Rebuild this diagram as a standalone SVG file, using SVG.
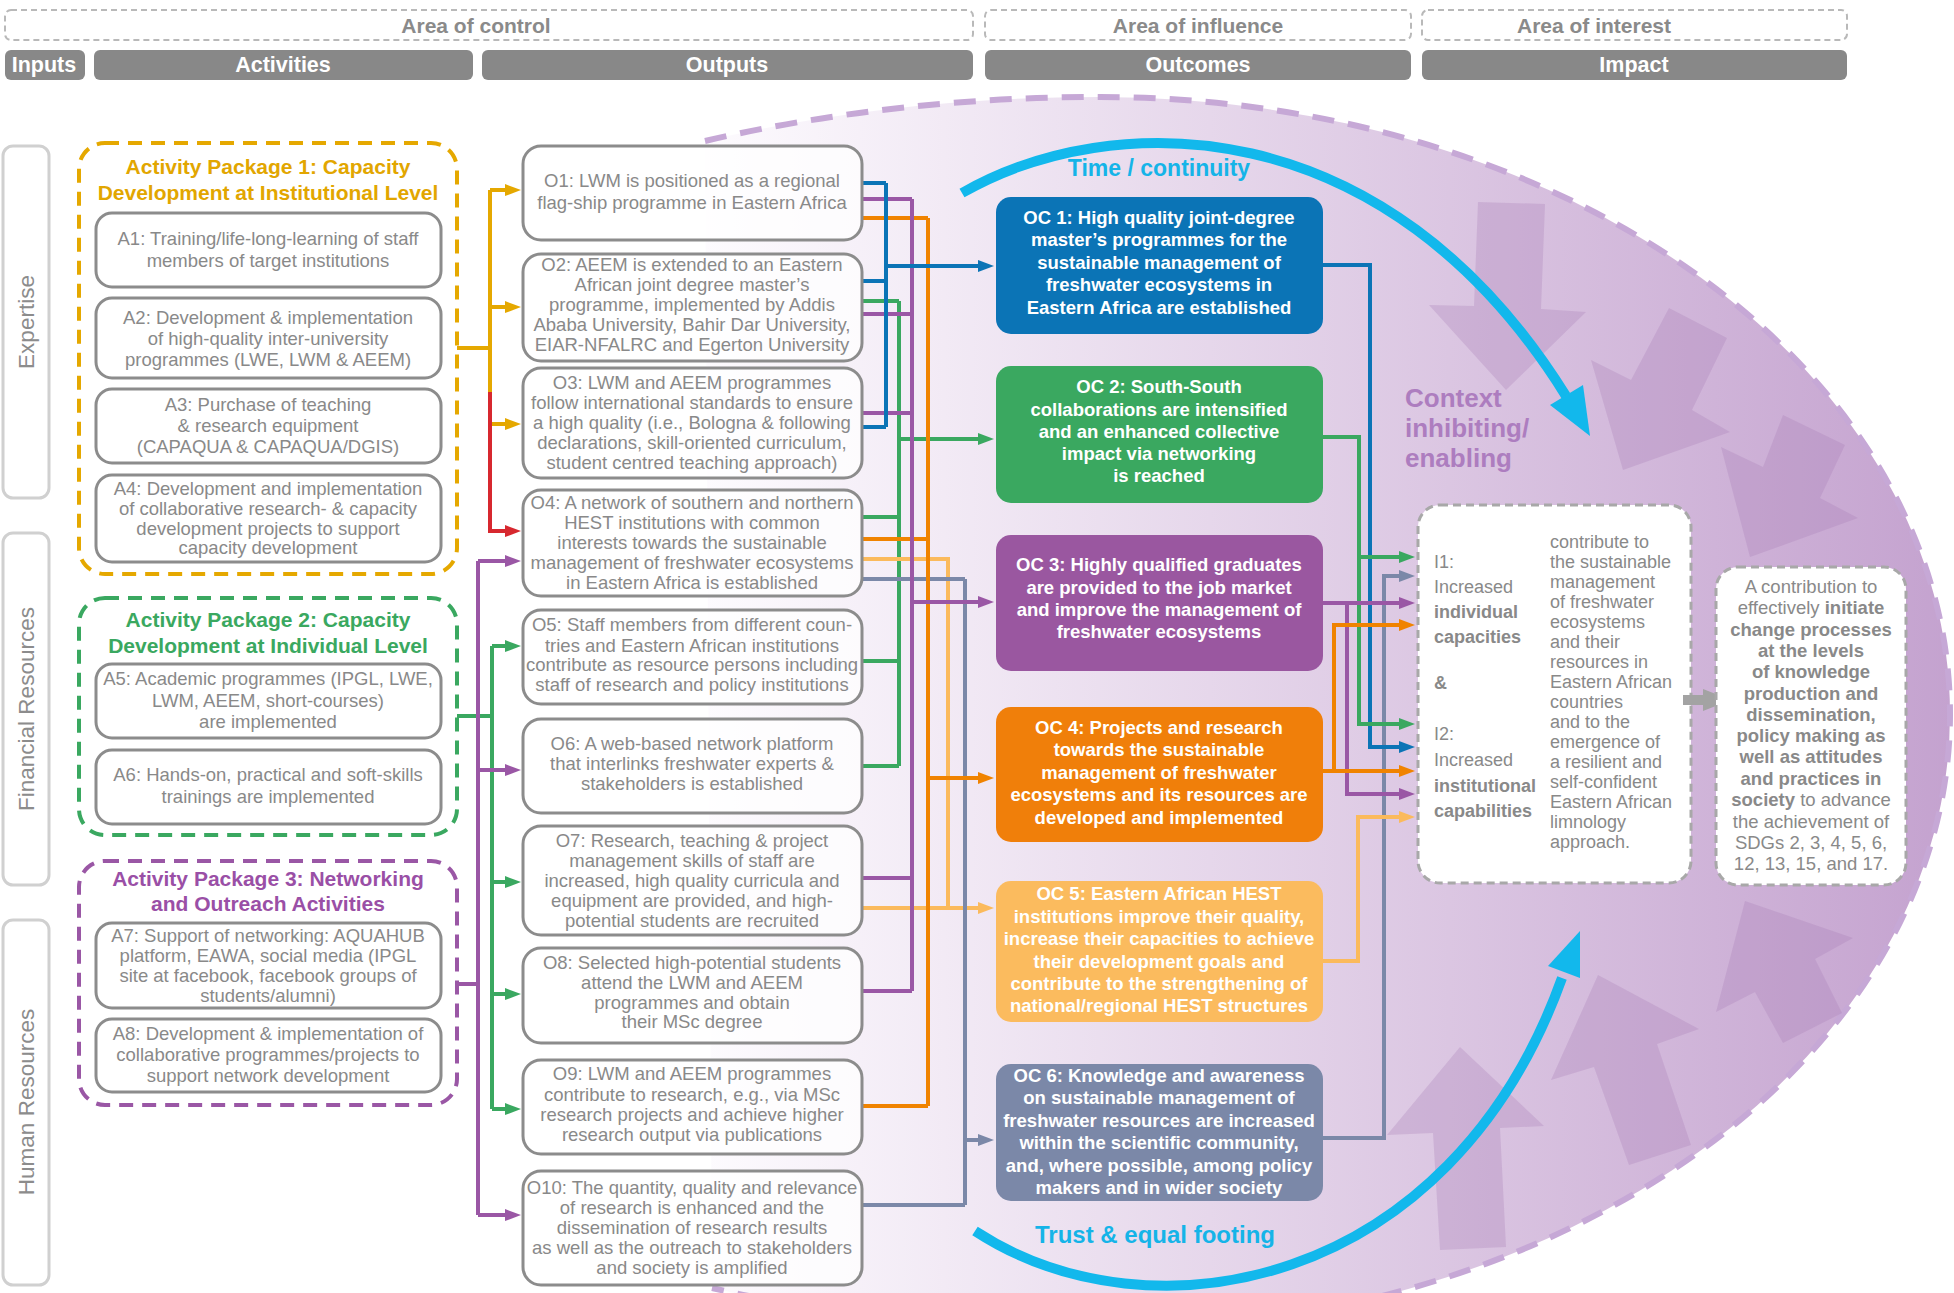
<svg xmlns="http://www.w3.org/2000/svg" width="1954" height="1293" viewBox="0 0 1954 1293">
<defs>
<linearGradient id="eg" gradientUnits="userSpaceOnUse" x1="705" y1="0" x2="1954" y2="0">
<stop offset="0" stop-color="#fdfbfe"/>
<stop offset="1" stop-color="#c4a2cf"/>
</linearGradient>
<marker id="mY" viewBox="0 0 16 12" refX="4" refY="6" markerWidth="16" markerHeight="12" markerUnits="userSpaceOnUse" orient="auto"><path d="M0,0L16,6L0,12z" fill="#e5a800"/></marker>
<marker id="mR" viewBox="0 0 16 12" refX="4" refY="6" markerWidth="16" markerHeight="12" markerUnits="userSpaceOnUse" orient="auto"><path d="M0,0L16,6L0,12z" fill="#d7282f"/></marker>
<marker id="mG" viewBox="0 0 16 12" refX="4" refY="6" markerWidth="16" markerHeight="12" markerUnits="userSpaceOnUse" orient="auto"><path d="M0,0L16,6L0,12z" fill="#3aa860"/></marker>
<marker id="mP" viewBox="0 0 16 12" refX="4" refY="6" markerWidth="16" markerHeight="12" markerUnits="userSpaceOnUse" orient="auto"><path d="M0,0L16,6L0,12z" fill="#9a57a5"/></marker>
<marker id="mB" viewBox="0 0 16 12" refX="4" refY="6" markerWidth="16" markerHeight="12" markerUnits="userSpaceOnUse" orient="auto"><path d="M0,0L16,6L0,12z" fill="#0b74b6"/></marker>
<marker id="mO" viewBox="0 0 16 12" refX="4" refY="6" markerWidth="16" markerHeight="12" markerUnits="userSpaceOnUse" orient="auto"><path d="M0,0L16,6L0,12z" fill="#f08300"/></marker>
<marker id="mL" viewBox="0 0 16 12" refX="4" refY="6" markerWidth="16" markerHeight="12" markerUnits="userSpaceOnUse" orient="auto"><path d="M0,0L16,6L0,12z" fill="#fbba5c"/></marker>
<marker id="mS" viewBox="0 0 16 12" refX="4" refY="6" markerWidth="16" markerHeight="12" markerUnits="userSpaceOnUse" orient="auto"><path d="M0,0L16,6L0,12z" fill="#7b88a8"/></marker>
</defs>
<style>
text{font-family:"Liberation Sans",Arial,sans-serif}
.h1{font-size:21px;font-weight:bold;fill:#8a8a8a;text-anchor:middle}
.h2{font-size:21.5px;font-weight:bold;fill:#ffffff;text-anchor:middle}
.hb1{fill:none;stroke:#b9b9b9;stroke-width:2;stroke-dasharray:6 4}
.hb2{fill:#888888}
.side{fill:#ffffff;stroke:#d0d0d0;stroke-width:3}
.sidet{font-size:22.5px;fill:#8c8c8c;text-anchor:middle}
.ap{fill:none;stroke-width:4;stroke-dasharray:14 9}
.apt{font-size:21px;font-weight:bold;text-anchor:middle}
.box{fill:#ffffff;stroke:#8c8c8c;stroke-width:3}
.obox{fill:#ffffff;fill-opacity:0.75;stroke:#8c8c8c;stroke-width:3}
.bt{font-size:18.5px;fill:#898989;text-anchor:middle}
.oc{font-size:18.5px;font-weight:bold;fill:#ffffff;text-anchor:middle}
.c{fill:none;stroke-width:4}
.ctx{fill:#a57ab5;fill-opacity:0.28}
.cy{fill:none;stroke:#12b8ec;stroke-width:10}
.dbox{fill:#ffffff;stroke:#a8a8a8;stroke-width:3;stroke-dasharray:8 5}
.it{font-size:18px;fill:#898989}
.ft{font-size:18.5px;fill:#898989;text-anchor:middle}
</style>

<g id="context-ellipse">
<path d="M705,141 A1061,617 0 0 1 1100,97 A850,617 0 0 1 1100,1331 A1061,617 0 0 1 712,1288 Z" fill="url(#eg)"/>
<path d="M705,141 A1061,617 0 0 1 1100,97 A850,617 0 0 1 1100,1331 A1061,617 0 0 1 712,1288" fill="none" stroke="#c6a8d6" stroke-width="6" stroke-dasharray="22 14"/>
<polygon class="ctx" points="1478,202 1545,204 1541,309 1586,312 1506,390 1429,305 1474,306"/>
<polygon class="ctx" points="1669,308 1727,338 1692,410 1730,432 1623,470 1591,360 1631,380"/>
<polygon class="ctx" points="1783,415 1845,445 1820,498 1858,518 1750,557 1721,447 1763,467"/>
<polygon class="ctx" points="1440,1250 1506,1247 1500,1128 1544,1126 1460,1047 1387,1135 1433,1133"/>
<polygon class="ctx" points="1629,1165 1691,1145 1657,1044 1699,1029 1598,975 1551,1080 1594,1067"/>
<polygon class="ctx" points="1783,1043 1842,1013 1815,959 1853,938 1745,901 1716,1012 1755,992"/>
<text x="1405" y="407" font-size="26" font-weight="bold" fill="#ad7dbf">Context</text>
<text x="1405" y="437" font-size="26" font-weight="bold" fill="#ad7dbf">inhibiting/</text>
<text x="1405" y="467" font-size="26" font-weight="bold" fill="#ad7dbf">enabling</text>
</g>

<g id="cyan-arcs">
<path class="cy" d="M962,193 C1110,108 1385,105 1566,396"/>
<polygon points="1590,436 1550,405 1583,385" fill="#12b8ec"/>
<text x="1159" y="176" font-size="23" font-weight="bold" fill="#15b4e8" text-anchor="middle">Time / continuity</text>
<path class="cy" d="M975,1231 C1150,1345 1450,1290 1562,978" stroke-width="9"/>
<polygon points="1580,931 1548,966 1580,978" fill="#12b8ec"/>
<text x="1155" y="1243" font-size="24" font-weight="bold" fill="#15b4e8" text-anchor="middle">Trust &amp; equal footing</text>
</g>

<g id="header">
<rect class="hb1" x="5" y="10" width="968" height="30" rx="6"/>
<rect class="hb1" x="985" y="10" width="426" height="30" rx="6"/>
<rect class="hb1" x="1422" y="10" width="425" height="30" rx="6"/>
<text class="h1" x="476" y="33">Area of control</text>
<text class="h1" x="1198" y="33">Area of influence</text>
<text class="h1" x="1594" y="33">Area of interest</text>
<rect class="hb2" x="5" y="50" width="80" height="30" rx="6"/>
<rect class="hb2" x="94" y="50" width="379" height="30" rx="6"/>
<rect class="hb2" x="482" y="50" width="491" height="30" rx="6"/>
<rect class="hb2" x="985" y="50" width="426" height="30" rx="6"/>
<rect class="hb2" x="1422" y="50" width="425" height="30" rx="6"/>
<text class="h2" x="44" y="72">Inputs</text>
<text class="h2" x="283" y="72">Activities</text>
<text class="h2" x="727" y="72">Outputs</text>
<text class="h2" x="1198" y="72">Outcomes</text>
<text class="h2" x="1634" y="72">Impact</text>
</g>

<g id="inputs">
<rect class="side" x="3" y="146" width="46" height="352" rx="10"/>
<rect class="side" x="3" y="533" width="46" height="352" rx="10"/>
<rect class="side" x="3" y="920" width="46" height="365" rx="10"/>
<text class="sidet" transform="translate(26,322) rotate(-90)" y="8">Expertise</text>
<text class="sidet" transform="translate(26,709) rotate(-90)" y="8">Financial Resources</text>
<text class="sidet" transform="translate(26,1102) rotate(-90)" y="8">Human Resources</text>
</g>

<g id="ap1">
<rect class="ap" x="79" y="143" width="378" height="431" rx="26" stroke="#e5a800"/>
<text class="apt" x="268" y="174" fill="#e2a600">Activity Package 1: Capacity</text>
<text class="apt" x="268" y="200" fill="#e2a600">Development at Institutional Level</text>
</g>
<g id="a1"><rect class="box" x="96" y="213" width="345" height="74" rx="16"/>
<text class="bt" x="268" y="245">A1: Training/life-long-learning of staff</text>
<text class="bt" x="268" y="267">members of target institutions</text></g>
<g id="a2"><rect class="box" x="96" y="298" width="345" height="80" rx="16"/>
<text class="bt" x="268" y="324">A2: Development &amp; implementation</text>
<text class="bt" x="268" y="345">of high-quality inter-university</text>
<text class="bt" x="268" y="366">programmes (LWE, LWM &amp; AEEM)</text></g>
<g id="a3"><rect class="box" x="96" y="389" width="345" height="74" rx="16"/>
<text class="bt" x="268" y="411">A3: Purchase of teaching</text>
<text class="bt" x="268" y="432">&amp; research equipment</text>
<text class="bt" x="268" y="453">(CAPAQUA &amp; CAPAQUA/DGIS)</text></g>
<g id="a4"><rect class="box" x="96" y="475" width="345" height="87" rx="16"/>
<text class="bt" x="268" y="495">A4: Development and implementation</text>
<text class="bt" x="268" y="515">of collaborative research- &amp; capacity</text>
<text class="bt" x="268" y="535">development projects to support</text>
<text class="bt" x="268" y="554">capacity development</text></g>

<g id="ap2">
<rect class="ap" x="79" y="598" width="378" height="237" rx="26" stroke="#3aa860"/>
<text class="apt" x="268" y="627" fill="#3aa860">Activity Package 2: Capacity</text>
<text class="apt" x="268" y="653" fill="#3aa860">Development at Individual Level</text>
</g>
<g id="a5"><rect class="box" x="96" y="664" width="345" height="74" rx="16"/>
<text class="bt" x="268" y="685">A5: Academic programmes (IPGL, LWE,</text>
<text class="bt" x="268" y="707">LWM, AEEM, short-courses)</text>
<text class="bt" x="268" y="728">are implemented</text></g>
<g id="a6"><rect class="box" x="96" y="750" width="345" height="74" rx="16"/>
<text class="bt" x="268" y="781">A6: Hands-on, practical and soft-skills</text>
<text class="bt" x="268" y="803">trainings are implemented</text></g>

<g id="ap3">
<rect class="ap" x="79" y="861" width="378" height="244" rx="26" stroke="#9a57a5"/>
<text class="apt" x="268" y="886" fill="#9a4fa6">Activity Package 3: Networking</text>
<text class="apt" x="268" y="911" fill="#9a4fa6">and Outreach Activities</text>
</g>
<g id="a7"><rect class="box" x="96" y="923" width="345" height="85" rx="16"/>
<text class="bt" x="268" y="942">A7: Support of networking: AQUAHUB</text>
<text class="bt" x="268" y="962">platform, EAWA, social media (IPGL</text>
<text class="bt" x="268" y="982">site at facebook, facebook groups of</text>
<text class="bt" x="268" y="1002">students/alumni)</text></g>
<g id="a8"><rect class="box" x="96" y="1019" width="345" height="73" rx="16"/>
<text class="bt" x="268" y="1040">A8: Development &amp; implementation of</text>
<text class="bt" x="268" y="1061">collaborative programmes/projects to</text>
<text class="bt" x="268" y="1082">support network development</text></g>

<g id="connectors">
<path class="c" stroke="#e5a800" d="M457,348H490M490,190V424"/>
<path class="c" stroke="#e5a800" d="M490,190H509" marker-end="url(#mY)"/>
<path class="c" stroke="#e5a800" d="M490,307H509" marker-end="url(#mY)"/>
<path class="c" stroke="#e5a800" d="M490,424H509" marker-end="url(#mY)"/>
<path class="c" stroke="#d7282f" d="M490,392V531H509" marker-end="url(#mR)"/>
<path class="c" stroke="#3aa860" d="M457,716H492M492,646V1109"/>
<path class="c" stroke="#3aa860" d="M492,646H509" marker-end="url(#mG)"/>
<path class="c" stroke="#3aa860" d="M492,882H509" marker-end="url(#mG)"/>
<path class="c" stroke="#3aa860" d="M492,994H509" marker-end="url(#mG)"/>
<path class="c" stroke="#3aa860" d="M492,1109H509" marker-end="url(#mG)"/>
<path class="c" stroke="#9a57a5" d="M457,984H478M478,561V1215"/>
<path class="c" stroke="#9a57a5" d="M478,561H509" marker-end="url(#mP)"/>
<path class="c" stroke="#9a57a5" d="M478,770H509" marker-end="url(#mP)"/>
<path class="c" stroke="#9a57a5" d="M478,1215H509" marker-end="url(#mP)"/>

<path class="c" stroke="#3aa860" d="M862,301H899M862,517H899M862,661H899M862,766H899M899,301V766"/>
<path class="c" stroke="#3aa860" d="M899,439H982" marker-end="url(#mG)"/>
<path class="c" stroke="#fbba5c" d="M862,559H948V908"/>
<path class="c" stroke="#fbba5c" d="M862,908H982" marker-end="url(#mL)"/>
<path class="c" stroke="#7b88a8" d="M862,579H965M862,1205H965M965,579V1205"/>
<path class="c" stroke="#7b88a8" d="M965,1140H982" marker-end="url(#mS)"/>
<path class="c" stroke="#f08300" d="M862,218H928M862,539H928M862,1106H928M928,218V1106"/>
<path class="c" stroke="#f08300" d="M928,778H982" marker-end="url(#mO)"/>
<path class="c" stroke="#9a57a5" d="M862,199H912M862,314H912M862,413H912M862,878H912M862,991H912M912,199V991"/>
<path class="c" stroke="#9a57a5" d="M912,602H982" marker-end="url(#mP)"/>
<path class="c" stroke="#0b74b6" d="M862,183H886M862,281H886M862,427H886M886,183V427"/>
<path class="c" stroke="#0b74b6" d="M886,266H982" marker-end="url(#mB)"/>

<path class="c" stroke="#7b88a8" d="M1323,1138H1384V576H1403" marker-end="url(#mS)"/>
<path class="c" stroke="#0b74b6" d="M1323,265H1370V747H1403" marker-end="url(#mB)"/>
<path class="c" stroke="#3aa860" d="M1323,437H1359V724H1403" marker-end="url(#mG)"/>
<path class="c" stroke="#3aa860" d="M1359,557H1403" marker-end="url(#mG)"/>
<path class="c" stroke="#9a57a5" d="M1323,603H1403" marker-end="url(#mP)"/>
<path class="c" stroke="#9a57a5" d="M1347,603V794H1403" marker-end="url(#mP)"/>
<path class="c" stroke="#f08300" d="M1323,771H1403" marker-end="url(#mO)"/>
<path class="c" stroke="#f08300" d="M1334,771V625H1403" marker-end="url(#mO)"/>
<path class="c" stroke="#fbba5c" d="M1323,961H1358V817H1403" marker-end="url(#mL)"/>
</g>

<g id="o1"><rect class="obox" x="523" y="146" width="339" height="94" rx="18"/>
<text class="bt" x="692" y="187">O1: LWM is positioned as a regional</text>
<text class="bt" x="692" y="209">flag-ship programme in Eastern Africa</text></g>
<g id="o2"><rect class="obox" x="523" y="254" width="339" height="107" rx="18"/>
<text class="bt" x="692" y="271">O2: AEEM is extended to an Eastern</text>
<text class="bt" x="692" y="291">African joint degree master’s</text>
<text class="bt" x="692" y="311">programme, implemented by Addis</text>
<text class="bt" x="692" y="331">Ababa University, Bahir Dar University,</text>
<text class="bt" x="692" y="351">EIAR-NFALRC and Egerton University</text></g>
<g id="o3"><rect class="obox" x="523" y="368" width="339" height="110" rx="18"/>
<text class="bt" x="692" y="389">O3: LWM and AEEM programmes</text>
<text class="bt" x="692" y="409">follow international standards to ensure</text>
<text class="bt" x="692" y="429">a high quality (i.e., Bologna &amp; following</text>
<text class="bt" x="692" y="449">declarations, skill-oriented curriculum,</text>
<text class="bt" x="692" y="469">student centred teaching approach)</text></g>
<g id="o4"><rect class="obox" x="523" y="490" width="339" height="106" rx="18"/>
<text class="bt" x="692" y="509">O4: A network of southern and northern</text>
<text class="bt" x="692" y="529">HEST institutions with common</text>
<text class="bt" x="692" y="549">interests towards the sustainable</text>
<text class="bt" x="692" y="569">management of freshwater ecosystems</text>
<text class="bt" x="692" y="589">in Eastern Africa is established</text></g>
<g id="o5"><rect class="obox" x="523" y="610" width="339" height="94" rx="18"/>
<text class="bt" x="692" y="631">O5: Staff members from different coun-</text>
<text class="bt" x="692" y="652">tries and Eastern African institutions</text>
<text class="bt" x="692" y="671">contribute as resource persons including</text>
<text class="bt" x="692" y="691">staff of research and policy institutions</text></g>
<g id="o6"><rect class="obox" x="523" y="719" width="339" height="94" rx="18"/>
<text class="bt" x="692" y="750">O6: A web-based network platform</text>
<text class="bt" x="692" y="770">that interlinks freshwater experts &amp;</text>
<text class="bt" x="692" y="790">stakeholders is established</text></g>
<g id="o7"><rect class="obox" x="523" y="826" width="339" height="109" rx="18"/>
<text class="bt" x="692" y="847">O7: Research, teaching &amp; project</text>
<text class="bt" x="692" y="867">management skills of staff are</text>
<text class="bt" x="692" y="887">increased, high quality curricula and</text>
<text class="bt" x="692" y="907">equipment are provided, and high-</text>
<text class="bt" x="692" y="927">potential students are recruited</text></g>
<g id="o8"><rect class="obox" x="523" y="948" width="339" height="95" rx="18"/>
<text class="bt" x="692" y="969">O8: Selected high-potential students</text>
<text class="bt" x="692" y="989">attend the LWM and AEEM</text>
<text class="bt" x="692" y="1009">programmes and obtain</text>
<text class="bt" x="692" y="1028">their MSc degree</text></g>
<g id="o9"><rect class="obox" x="523" y="1060" width="339" height="94" rx="18"/>
<text class="bt" x="692" y="1080">O9: LWM and AEEM programmes</text>
<text class="bt" x="692" y="1101">contribute to research, e.g., via MSc</text>
<text class="bt" x="692" y="1121">research projects and achieve higher</text>
<text class="bt" x="692" y="1141">research output via publications</text></g>
<g id="o10"><rect class="obox" x="523" y="1171" width="339" height="114" rx="18"/>
<text class="bt" x="692" y="1194">O10: The quantity, quality and relevance</text>
<text class="bt" x="692" y="1214">of research is enhanced and the</text>
<text class="bt" x="692" y="1234">dissemination of research results</text>
<text class="bt" x="692" y="1254">as well as the outreach to stakeholders</text>
<text class="bt" x="692" y="1274">and society is amplified</text></g>

<g id="oc1"><rect x="996" y="197" width="327" height="137" rx="15" fill="#0b74b6"/>
<text class="oc" x="1159" y="224">OC 1: High quality joint-degree</text>
<text class="oc" x="1159" y="246">master’s programmes for the</text>
<text class="oc" x="1159" y="269">sustainable management of</text>
<text class="oc" x="1159" y="291">freshwater ecosystems in</text>
<text class="oc" x="1159" y="314">Eastern Africa are established</text></g>
<g id="oc2"><rect x="996" y="366" width="327" height="137" rx="15" fill="#3aa860"/>
<text class="oc" x="1159" y="393">OC 2: South-South</text>
<text class="oc" x="1159" y="416">collaborations are intensified</text>
<text class="oc" x="1159" y="438">and an enhanced collective</text>
<text class="oc" x="1159" y="460">impact via networking</text>
<text class="oc" x="1159" y="482">is reached</text></g>
<g id="oc3"><rect x="996" y="535" width="327" height="136" rx="15" fill="#9a57a0"/>
<text class="oc" x="1159" y="571">OC 3: Highly qualified graduates</text>
<text class="oc" x="1159" y="594">are provided to the job market</text>
<text class="oc" x="1159" y="616">and improve the management of</text>
<text class="oc" x="1159" y="638">freshwater ecosystems</text></g>
<g id="oc4"><rect x="996" y="707" width="327" height="135" rx="15" fill="#f07f0a"/>
<text class="oc" x="1159" y="734">OC 4: Projects and research</text>
<text class="oc" x="1159" y="756">towards the sustainable</text>
<text class="oc" x="1159" y="779">management of freshwater</text>
<text class="oc" x="1159" y="801">ecosystems and its resources are</text>
<text class="oc" x="1159" y="824">developed and implemented</text></g>
<g id="oc5"><rect x="996" y="881" width="327" height="141" rx="15" fill="#fbbb5e"/>
<text class="oc" x="1159" y="900">OC 5: Eastern African HEST</text>
<text class="oc" x="1159" y="923">institutions improve their quality,</text>
<text class="oc" x="1159" y="945">increase their capacities to achieve</text>
<text class="oc" x="1159" y="968">their development goals  and</text>
<text class="oc" x="1159" y="990">contribute to the strengthening of</text>
<text class="oc" x="1159" y="1012">national/regional HEST structures</text></g>
<g id="oc6"><rect x="996" y="1064" width="327" height="137" rx="15" fill="#7b88a8"/>
<text class="oc" x="1159" y="1082">OC 6: Knowledge and awareness</text>
<text class="oc" x="1159" y="1104">on sustainable management of</text>
<text class="oc" x="1159" y="1127">freshwater resources are increased</text>
<text class="oc" x="1159" y="1149">within the scientific community,</text>
<text class="oc" x="1159" y="1172">and, where possible, among policy</text>
<text class="oc" x="1159" y="1194">makers and in wider society</text></g>

<g id="impact-capacities"><rect class="dbox" x="1418" y="505" width="273" height="378" rx="22"/>
<text class="it" x="1434" y="568">I1:</text>
<text class="it" x="1434" y="593">Increased</text>
<text class="it" x="1434" y="618" font-weight="bold">individual</text>
<text class="it" x="1434" y="643" font-weight="bold">capacities</text>
<text class="it" x="1434" y="689" font-weight="bold">&amp;</text>
<text class="it" x="1434" y="740">I2:</text>
<text class="it" x="1434" y="766">Increased</text>
<text class="it" x="1434" y="792" font-weight="bold">institutional</text>
<text class="it" x="1434" y="817" font-weight="bold">capabilities</text>
<text class="it" x="1550" y="548">contribute to</text>
<text class="it" x="1550" y="568">the sustainable</text>
<text class="it" x="1550" y="588">management</text>
<text class="it" x="1550" y="608">of freshwater</text>
<text class="it" x="1550" y="628">ecosystems</text>
<text class="it" x="1550" y="648">and their</text>
<text class="it" x="1550" y="668">resources in</text>
<text class="it" x="1550" y="688">Eastern African</text>
<text class="it" x="1550" y="708">countries</text>
<text class="it" x="1550" y="728">and to the</text>
<text class="it" x="1550" y="748">emergence of</text>
<text class="it" x="1550" y="768">a resilient and</text>
<text class="it" x="1550" y="788">self-confident</text>
<text class="it" x="1550" y="808">Eastern African</text>
<text class="it" x="1550" y="828">limnology</text>
<text class="it" x="1550" y="848">approach.</text></g>

<g id="impact-arrow"><polygon points="1683,695 1703,695 1703,689 1731,700 1703,711 1703,705 1683,705" fill="#a3a3a3"/></g>

<g id="impact-final"><rect class="dbox" x="1716" y="567" width="190" height="318" rx="22"/>
<text class="ft" x="1811" y="593">A contribution to</text>
<text class="ft" x="1811" y="614">effectively <tspan font-weight="bold">initiate</tspan></text>
<text class="ft" x="1811" y="636" font-weight="bold">change processes</text>
<text class="ft" x="1811" y="657" font-weight="bold">at the levels</text>
<text class="ft" x="1811" y="678" font-weight="bold">of knowledge</text>
<text class="ft" x="1811" y="700" font-weight="bold">production and</text>
<text class="ft" x="1811" y="721" font-weight="bold">dissemination,</text>
<text class="ft" x="1811" y="742" font-weight="bold">policy making as</text>
<text class="ft" x="1811" y="763" font-weight="bold">well as attitudes</text>
<text class="ft" x="1811" y="785" font-weight="bold">and practices in</text>
<text class="ft" x="1811" y="806"><tspan font-weight="bold">society</tspan> to advance</text>
<text class="ft" x="1811" y="828">the achievement of</text>
<text class="ft" x="1811" y="849">SDGs 2, 3, 4, 5, 6,</text>
<text class="ft" x="1811" y="870">12, 13, 15, and 17.</text></g>
</svg>
